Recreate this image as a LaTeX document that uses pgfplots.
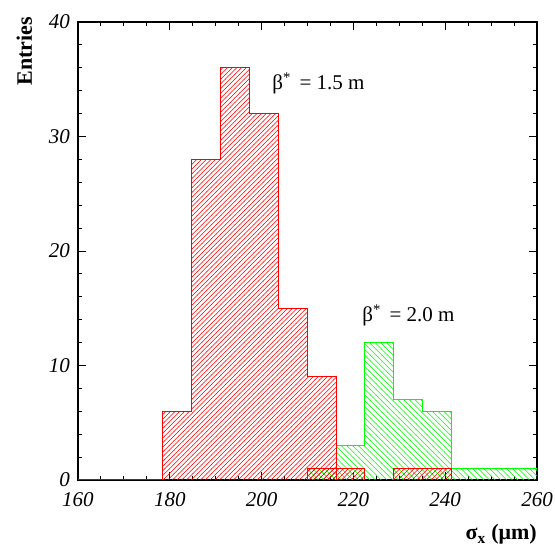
\documentclass[border=0pt]{standalone}
\usepackage{fontspec}
\setmainfont{Liberation Serif}
\usepackage{pgfplots}
\pgfplotsset{compat=1.18}
\usetikzlibrary{patterns}
\pgfdeclarepatternformonly{redhatch}{\pgfqpoint{-1pt}{-1pt}}{\pgfqpoint{5.7pt}{5.7pt}}{\pgfqpoint{4.7pt}{4.7pt}}{%
 \pgfsetlinewidth{0.55pt}%
 \pgfpathmoveto{\pgfqpoint{-0.2pt}{-0.2pt}}\pgfpathlineto{\pgfqpoint{4.9pt}{4.9pt}}\pgfusepath{stroke}}
\pgfdeclarepatternformonly{greenhatch}{\pgfqpoint{-1pt}{-1pt}}{\pgfqpoint{6.7pt}{6.7pt}}{\pgfqpoint{5.7pt}{5.7pt}}{%
 \pgfsetlinewidth{0.55pt}%
 \pgfpathmoveto{\pgfqpoint{-0.2pt}{5.9pt}}\pgfpathlineto{\pgfqpoint{5.9pt}{-0.2pt}}\pgfusepath{stroke}}
\begin{document}
\begin{tikzpicture}
\useasboundingbox (-78pt,-69pt) rectangle (477pt,480pt);
\begin{axis}[
 scale only axis, width=459pt, height=458pt,
 xmin=160, xmax=260, ymin=0, ymax=40,
 xtick={160,180,...,260}, ytick={0,10,...,40},
 minor x tick num=3, minor y tick num=4,
 major tick length=8pt, minor tick length=4pt,
 axis line style={line width=1.4pt},
 every tick/.style={black, line width=0.9pt},
 /pgf/number format/assume math mode=true,
 xticklabel={\pgfmathprintnumber{\tick}},
 yticklabel={\pgfmathprintnumber{\tick}},
 tick label style={font=\fontsize{21}{24}\selectfont\itshape, inner sep=0pt},
 xticklabel style={yshift=-12pt}, yticklabel style={xshift=-8pt},
]
\addplot[draw=green!40!black, line width=1.4pt] coordinates {(160,0)(178.4,0)};
\addplot[const plot, draw=green, line width=0.9pt, pattern=greenhatch, pattern color=green]
 coordinates {(209.9,1)(216.2,3)(222.5,12)(228.8,7)(235.1,6)(241.4,1)(262,1)} \closedcycle;
\addplot[const plot, draw=red, line width=0.9pt, pattern=redhatch, pattern color=red]
 coordinates {(178.4,6)(184.7,28)(191.0,36)(197.3,32)(203.6,15)(209.9,9)(216.2,9)} \closedcycle;
\addplot[const plot, draw=red, line width=0.9pt, pattern=redhatch, pattern color=red]
 coordinates {(209.9,1)(222.5,1)} \closedcycle;
\addplot[const plot, draw=red, line width=0.9pt, pattern=redhatch, pattern color=red]
 coordinates {(228.8,1)(241.4,1)} \closedcycle;
\node[anchor=base west, font=\fontsize{21}{24}\selectfont, inner sep=0pt] at (axis cs:202.3,34.1) {β\textsuperscript{*}\ \,= 1.5 m};
\node[anchor=base west, font=\fontsize{21}{24}\selectfont, inner sep=0pt] at (axis cs:221.9,13.8) {β\textsuperscript{*}\ \,= 2.0 m};
\end{axis}
\node[rotate=90, anchor=base east, inner sep=0pt, font=\fontsize{22}{24}\selectfont\bfseries] at (-46pt,463pt) {Entries};
\node[anchor=base east, inner sep=0pt, font=\fontsize{22}{24}\selectfont\bfseries] at (459pt,-60pt) {σ\textsubscript{x} (μm)};
\end{tikzpicture}
\end{document}
